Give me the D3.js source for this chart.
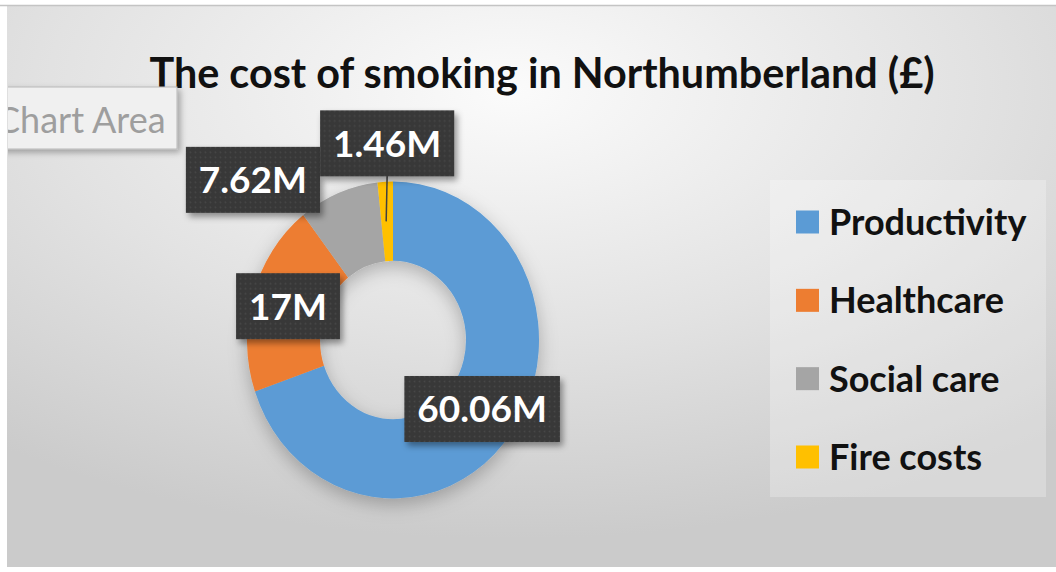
<!DOCTYPE html>
<html><head><meta charset="utf-8">
<script src="https://cdn.jsdelivr.net/npm/d3@7"></script>
<style>body{margin:0;background:#fff}svg{display:block}text{font-family:Lato,"Open Sans",sans-serif}</style>
</head><body><svg id="c" width="1056" height="572"></svg>
<script>
const categories = ["Productivity", "Healthcare", "Social care", "Fire costs"];
const values = [60.06, 17, 7.62, 1.46];
const valueLabels = ["60.06M", "17M", "7.62M", "1.46M"];
const colors = ["#5B9BD5", "#ED7D31", "#A5A5A5", "#FFC000"];
const titleText = "The cost of smoking in Northumberland (£)";

const W = 1056, H = 572;
const svg = d3.select("#c");
const defs = svg.append("defs");

const rg = defs.append("radialGradient").attr("id", "bg")
  .attr("cx", "48%").attr("cy", "15%").attr("r", "80%");
rg.append("stop").attr("offset", "0%").attr("stop-color", "#fbfbfb");
rg.append("stop").attr("offset", "55%").attr("stop-color", "#e2e2e2");
rg.append("stop").attr("offset", "100%").attr("stop-color", "#cbcbcb");

const pat = defs.append("pattern").attr("id", "dots").attr("width", 5).attr("height", 5)
  .attr("patternUnits", "userSpaceOnUse");
pat.append("rect").attr("width", 5).attr("height", 5).attr("fill", "#383838");
pat.append("circle").attr("cx", 2.5).attr("cy", 2.5).attr("r", 0.9).attr("fill", "#474747");

const sh = defs.append("filter").attr("id", "sh").attr("x", "-20%").attr("y", "-20%").attr("width", "150%").attr("height", "150%");
sh.append("feDropShadow").attr("dx", 3).attr("dy", 4).attr("stdDeviation", 3).attr("flood-color", "#000").attr("flood-opacity", 0.4);
const sh2 = defs.append("filter").attr("id", "sh2").attr("x", "-20%").attr("y", "-20%").attr("width", "140%").attr("height", "140%");
sh2.append("feDropShadow").attr("dx", 0).attr("dy", 6).attr("stdDeviation", 9).attr("flood-color", "#000").attr("flood-opacity", 0.25);
const sh3 = defs.append("filter").attr("id", "sh3").attr("x", "-20%").attr("y", "-20%").attr("width", "150%").attr("height", "150%");
sh3.append("feDropShadow").attr("dx", 3).attr("dy", 3).attr("stdDeviation", 3).attr("flood-color", "#000").attr("flood-opacity", 0.3);
defs.append("clipPath").attr("id", "clipL").append("rect").attr("x", 8).attr("y", 0).attr("width", W).attr("height", H);

// background
svg.append("rect").attr("width", W).attr("height", H).attr("fill", "#fff");
svg.append("rect").attr("x", 7).attr("y", 6).attr("width", W - 7).attr("height", 561).attr("fill", "url(#bg)");
svg.append("line").attr("x1", 0).attr("x2", W).attr("y1", 5.5).attr("y2", 5.5).attr("stroke", "#c4c4c4").attr("stroke-width", 1.5);

// title
svg.append("text").attr("x", 542).attr("y", 88).attr("text-anchor", "middle")
  .attr("font-size", 42).attr("font-weight", 700).attr("fill", "#111")
  .attr("textLength", 785).attr("lengthAdjust", "spacingAndGlyphs").text(titleText);

// donut
const cx = 393, cy = 340, sy = 1.085, rOut = 146, rIn = 73;
const pie = d3.pie().sort(null).value(d => d)(values);
const arc = d3.arc().innerRadius(rIn).outerRadius(rOut);
const g = svg.append("g").attr("filter", "url(#sh2)");
const gd = g.append("g").attr("transform", `translate(${cx},${cy}) scale(1,${sy})`);
gd.selectAll("path").data(pie).join("path").attr("d", arc).attr("fill", (d, i) => colors[i]);

// labels
const labelOffsets = [[0, 0], [0, 0], [-99, -50], [0, -78]];
const leader = [false, false, false, true];
const lab = svg.append("g");
pie.forEach((d, i) => {
  const c = arc.centroid(d);
  const px = cx + c[0], py = cy + c[1] * sy;
  const lx = px + labelOffsets[i][0], ly = py + labelOffsets[i][1];
  if (leader[i]) {
    lab.append("line").attr("x1", lx).attr("y1", ly + 30).attr("x2", px - 1).attr("y2", py)
      .attr("stroke", "#404040").attr("stroke-width", 1.5);
  }
  const gg = lab.append("g").attr("transform", `translate(${lx},${ly})`);
  const t = gg.append("text").attr("text-anchor", "middle").attr("dy", "0.36em")
    .attr("font-size", 37).attr("font-weight", 700).attr("fill", "#fff").text(valueLabels[i]);
  const w = t.node().getComputedTextLength();
  gg.insert("rect", "text").attr("x", -w / 2 - 13).attr("y", -33).attr("width", w + 26).attr("height", 66)
    .attr("fill", "url(#dots)").attr("filter", "url(#sh)");
});

// legend
svg.append("rect").attr("x", 770).attr("y", 180).attr("width", 276).attr("height", 317)
  .attr("fill", "#fff").attr("fill-opacity", 0.25);
const ly = d3.scalePoint().domain(categories).range([222, 457]);
const lg = svg.append("g");
categories.forEach((c, i) => {
  lg.append("rect").attr("x", 796).attr("y", ly(c) - 11.5).attr("width", 23).attr("height", 23).attr("fill", colors[i]);
  lg.append("text").attr("x", 829).attr("y", ly(c)).attr("dy", "0.36em")
    .attr("font-size", 36).attr("font-weight", 700).attr("fill", "#111").text(c);
});

// "Chart Area" tooltip
const tip = svg.append("g").attr("clip-path", "url(#clipL)");
tip.append("rect").attr("x", -2).attr("y", 87).attr("width", 179).attr("height", 62)
  .attr("fill", "#f0f0f0").attr("stroke", "#b8b8b8").attr("stroke-width", 1).attr("filter", "url(#sh3)");
tip.append("text").attr("x", -4).attr("y", 133).attr("font-size", 36).attr("fill", "#9e9e9e").text("Chart Area");
</script></body></html>
